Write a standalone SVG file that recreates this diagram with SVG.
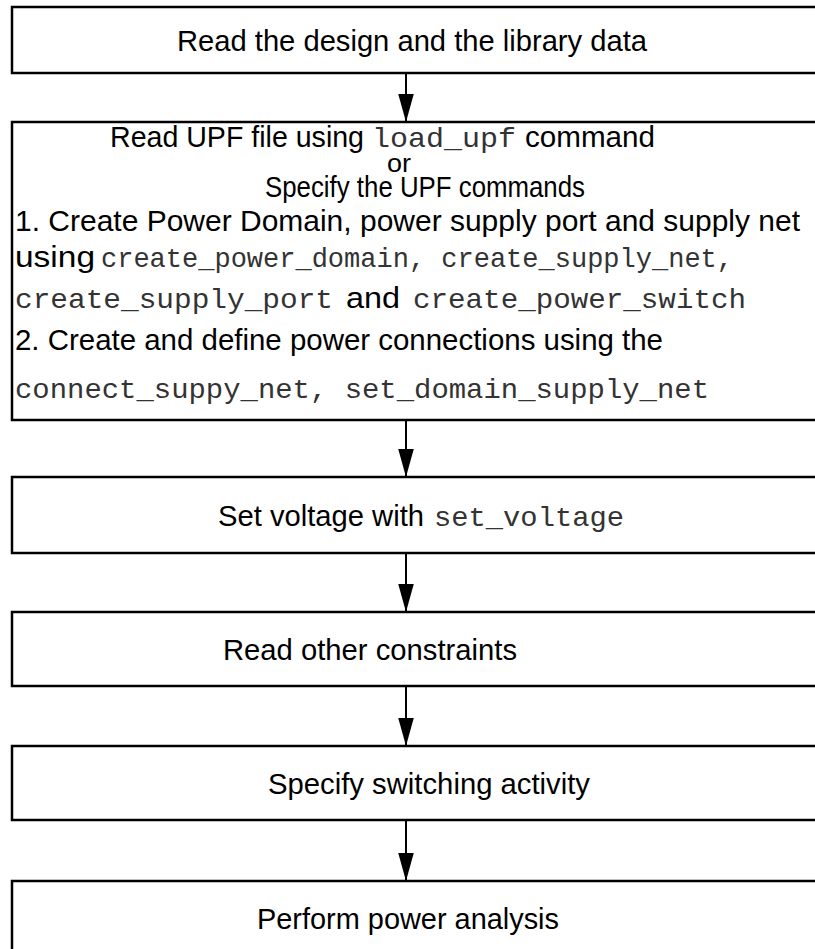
<svg xmlns="http://www.w3.org/2000/svg" width="815" height="949" viewBox="0 0 815 949">
<defs>
<style>
.box{fill:#fff;stroke:#000;stroke-width:2.5}
.s{font-family:"Liberation Sans",Arial,sans-serif;font-size:30px;fill:#000}
.m{font-family:"Liberation Mono","Courier New",monospace;font-size:28px;fill:#333}
.c{stroke:#000;stroke-width:2;fill:none}
.h{fill:#000}
</style>
<marker id="ah" markerUnits="userSpaceOnUse" markerWidth="28" markerHeight="16" refX="27" refY="7.5" orient="auto" viewBox="0 0 27 15">
<path d="M0,0 L27,7.5 L0,15 Z" class="h"/>
</marker>
</defs>
<rect width="815" height="949" fill="#fff"/>
<g id="n1">
<rect class="box" x="12" y="7" width="820" height="66"/>
<text class="s" x="177" y="51" textLength="470" lengthAdjust="spacingAndGlyphs">Read the design and the library data</text>
</g>
<g id="n2">
<rect class="box" x="12" y="122" width="820" height="298"/>
<text class="s" x="110" y="147" textLength="254" lengthAdjust="spacingAndGlyphs">Read UPF file using</text>
<text class="m" x="372" y="147" textLength="144" lengthAdjust="spacingAndGlyphs">load_upf</text>
<text class="s" x="525" y="147" textLength="130" lengthAdjust="spacingAndGlyphs">command</text>
<text class="s" x="387" y="172" textLength="24" lengthAdjust="spacingAndGlyphs" style="font-size:25px">or</text>
<text class="s" x="265" y="197" textLength="320" lengthAdjust="spacingAndGlyphs">Specify the UPF commands</text>
<text class="s" x="15" y="231" textLength="785" lengthAdjust="spacingAndGlyphs">1. Create Power Domain, power supply port and supply net</text>
<text class="s" x="15" y="267" textLength="80" lengthAdjust="spacingAndGlyphs">using</text>
<text class="m" x="101" y="267" textLength="632" lengthAdjust="spacingAndGlyphs">create_power_domain, create_supply_net,</text>
<text class="m" x="15" y="308" textLength="318" lengthAdjust="spacingAndGlyphs">create_supply_port</text>
<text class="s" x="346" y="308" textLength="54" lengthAdjust="spacingAndGlyphs">and</text>
<text class="m" x="413" y="308" textLength="333" lengthAdjust="spacingAndGlyphs">create_power_switch</text>
<text class="s" x="15" y="350" textLength="648" lengthAdjust="spacingAndGlyphs">2. Create and define power connections using the</text>
<text class="m" x="15" y="398" textLength="694" lengthAdjust="spacingAndGlyphs">connect_suppy_net, set_domain_supply_net</text>
</g>
<g id="n3">
<rect class="box" x="12" y="477" width="820" height="76"/>
<text class="s" x="218" y="526" textLength="206" lengthAdjust="spacingAndGlyphs">Set voltage with</text>
<text class="m" x="434" y="526" textLength="190" lengthAdjust="spacingAndGlyphs">set_voltage</text>
</g>
<g id="n4">
<rect class="box" x="12" y="612" width="820" height="74"/>
<text class="s" x="223" y="660" textLength="294" lengthAdjust="spacingAndGlyphs">Read other constraints</text>
</g>
<g id="n5">
<rect class="box" x="12" y="746" width="820" height="74"/>
<text class="s" x="268" y="794" textLength="322" lengthAdjust="spacingAndGlyphs">Specify switching activity</text>
</g>
<g id="n6">
<rect class="box" x="12" y="881" width="820" height="80"/>
<text class="s" x="257" y="929" textLength="302" lengthAdjust="spacingAndGlyphs">Perform power analysis</text>
</g>
<g id="connectors">
<line class="c" x1="406" y1="74" x2="406" y2="122" marker-end="url(#ah)"/>
<line class="c" x1="406" y1="421" x2="406" y2="477" marker-end="url(#ah)"/>
<line class="c" x1="406" y1="554" x2="406" y2="612" marker-end="url(#ah)"/>
<line class="c" x1="406" y1="687" x2="406" y2="746" marker-end="url(#ah)"/>
<line class="c" x1="406" y1="821" x2="406" y2="881" marker-end="url(#ah)"/>
</g>
</svg>
